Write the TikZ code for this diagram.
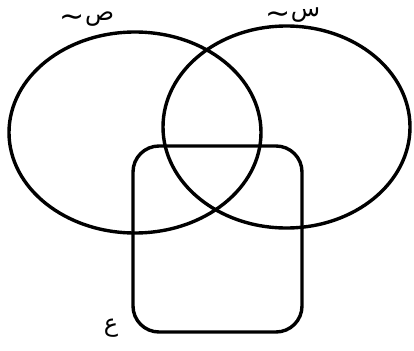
\documentclass[tikz,border=0pt]{standalone}
\usepackage{fontspec}
\usetikzlibrary{shapes.geometric}
\newfontfamily\arabicfont[Script=Arabic]{DejaVu Sans}
\TeXXeTstate=1
\tikzset{setline/.style={line width=3.4pt, draw=black},
  lbl/.style={font=\arabicfont\fontsize{24}{26}\selectfont, inner sep=0pt}}
\newcommand{\lowtilde}{\raisebox{-0.5ex}[0pt][0pt]{\fontsize{30}{30}\selectfont\~{}}}
\begin{document}
\begin{tikzpicture}[x=1pt,y=-1pt]
\useasboundingbox (0,0) rectangle (414,350);
\node[setline, ellipse, minimum width=252pt, minimum height=201pt, inner sep=0pt] (A) at (135,132.5) {};
\node[setline, ellipse, minimum width=247pt, minimum height=202pt, inner sep=0pt] (B) at (286.5,127) {};
\node[setline, rectangle, rounded corners=26pt, minimum width=169pt, minimum height=186pt, inner sep=0pt] (C) at (217.5,239) {};
\node[lbl] (la) at (87,19) {\lowtilde\beginR ص\endR};
\node[lbl] (lb) at (293,15) {\lowtilde\beginR س\endR};
\node[lbl] (lc) at (111,328) {\beginR ع\endR};
\end{tikzpicture}
\end{document}
